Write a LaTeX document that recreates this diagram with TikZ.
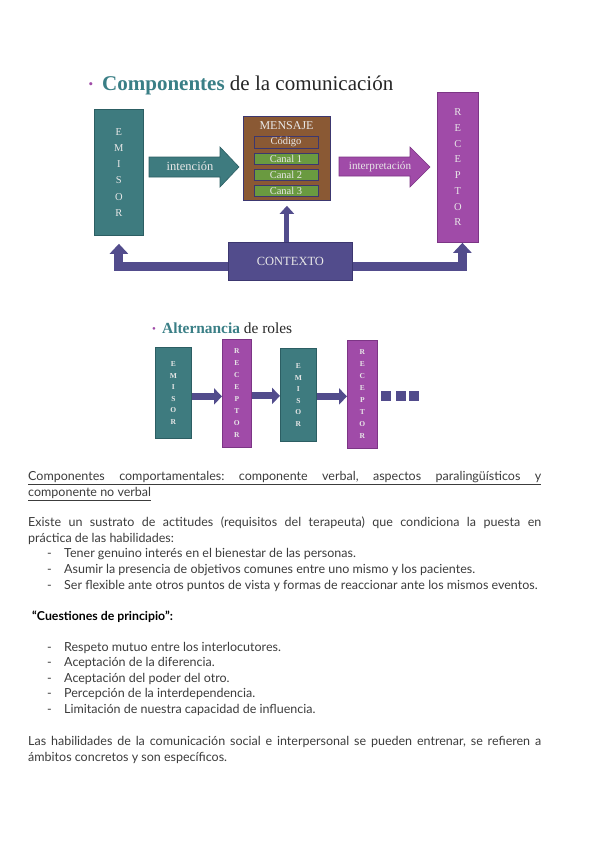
\documentclass[tikz,border=0pt]{standalone}
\usepackage{fontspec}
\setmainfont{Liberation Serif}
\newfontfamily\bodyfont{Lato}
\usetikzlibrary{arrows.meta}
\definecolor{cTeal}{HTML}{3E7B7F}
\definecolor{cTealD}{HTML}{2C5E63}
\definecolor{cTealT}{HTML}{3A7F86}
\definecolor{cPurple}{HTML}{A04BA8}
\definecolor{cPurpleD}{HTML}{7C3585}
\definecolor{cBrown}{HTML}{8A5934}
\definecolor{cGreen}{HTML}{6A9A40}
\definecolor{cNavy}{HTML}{524C8C}
\definecolor{cNavyD}{HTML}{3C3770}
\definecolor{cTxt}{HTML}{E8E8E8}
\definecolor{cBody}{HTML}{3C3C3C}
\frenchspacing
\begin{document}
\begin{tikzpicture}[x=1pt,y=-1pt,
  emi/.style={draw=cTealD, fill=cTeal, line width=0.8pt, anchor=north west, inner sep=0pt, text=cTxt, align=center},
  rec/.style={draw=cPurpleD, fill=cPurple, line width=0.8pt, anchor=north west, inner sep=0pt, text=cTxt, align=center},
  chan/.style={draw=cNavyD, line width=0.7pt, minimum width=64pt, inner sep=0pt, text=cTxt, font=\fontsize{10.5}{10.5}\selectfont},
  conn/.style={draw=cNavy, line width=9pt, -{Triangle[width=18pt,length=10pt]}},
  upconn/.style={draw=cNavy, line width=5pt, -{Triangle[width=14pt,length=8pt]}},
  sconn/.style={draw=cNavy, line width=7pt, -{Triangle[width=16pt,length=8pt]}},
  sq/.style={fill=cNavy, minimum size=10pt, inner sep=0pt},
  txt/.style={anchor=mid west, inner sep=0pt, yshift=-2.5pt, text=cBody, font=\bodyfont\fontsize{12.5}{16}\selectfont},
  dashmark/.style={anchor=mid west, inner sep=0pt, yshift=-2.5pt, text=cBody, font=\bodyfont\fontsize{12.5}{16}\selectfont}
]
\useasboundingbox[fill=white] (0,0) rectangle (600,848);

% ---- Title 1
\node[text=cPurple, font=\fontsize{13}{13}\selectfont, inner sep=0pt] (b1) at (91,86) {\textbullet};
\node[anchor=base west, inner sep=0pt, font=\fontsize{21}{21}\selectfont, text=black!85] (t1) at (102,91)
  {\textcolor{cTealT}{\bfseries Componentes} de la comunicación};

% ---- main diagram
\node[emi, minimum width=49pt, minimum height=126pt, font=\fontsize{10.5}{16.3}\selectfont] (emisor) at (94,109) {E\\M\\I\\S\\O\\R};
\node[rec, minimum width=41pt, minimum height=150pt, font=\fontsize{10.5}{15.7}\selectfont] (receptor) at (437,92) {R\\E\\C\\E\\P\\T\\O\\R};

\node[draw=cNavyD, fill=cBrown, line width=0.8pt, minimum width=87pt, minimum height=84pt, anchor=north west, inner sep=0pt] (mensaje) at (243,116) {};
\node[text=cTxt, font=\fontsize{12}{12}\selectfont, inner sep=0pt] (mtitle) at (286.5,126) {MENSAJE};
\node[chan, fill=cBrown, minimum height=12pt] (codigo) at (286,142) {Código};
\node[chan, fill=cGreen, minimum height=11pt] (canal1) at (286,158.5) {Canal 1};
\node[chan, fill=cGreen, minimum height=11pt] (canal2) at (286,174.5) {Canal 2};
\node[chan, fill=cGreen, minimum height=11pt] (canal3) at (286,190.5) {Canal 3};

% block arrows
\draw[fill=cTeal, draw=cTealD, line width=0.6pt] (149,157) -- (220,157) -- (220,147) -- (239,167) -- (220,187) -- (220,177) -- (149,177) -- cycle;
\node[text=cTxt, font=\fontsize{12.5}{12.5}\selectfont, inner sep=0pt] (lint) at (190,166.5) {intención};
\draw[fill=cPurple, draw=cPurpleD, line width=0.6pt] (339,157) -- (410,157) -- (410,147) -- (430,167) -- (410,187) -- (410,176) -- (339,176) -- cycle;
\node[text=cTxt, font=\fontsize{11.2}{11.2}\selectfont, inner sep=0pt] (lint2) at (380,166.5) {interpretación};

% contexto
\node[draw=cNavyD, fill=cNavy, line width=0.8pt, minimum width=124pt, minimum height=38pt, anchor=north west, inner sep=0pt,
  text=cTxt, font=\fontsize{12.5}{12.5}\selectfont] (ctx) at (228,242) {\raisebox{-2pt}{CONTEXTO}};
\draw[conn] ([yshift=-5pt]ctx.west) -| ([yshift=-8pt]emisor.south);
\draw[conn] ([yshift=-5pt]ctx.east) -| ([xshift=4.5pt]receptor.south);
\draw[upconn] (mensaje.south |- ctx.north) -- ([yshift=-5pt]mensaje.south);

% ---- Title 2
\node[text=cPurple, font=\fontsize{11}{11}\selectfont, inner sep=0pt] (b2) at (154,330) {\textbullet};
\node[anchor=base west, inner sep=0pt, font=\fontsize{15.4}{15.4}\selectfont, text=black!85] (t2) at (162,333)
  {\textcolor{cTealT}{\bfseries Alternancia} de roles};

% ---- small diagram
\node[emi, minimum width=36pt, minimum height=91pt, font=\fontsize{7.5}{11.5}\selectfont\bfseries] (e1) at (155,347) {E\\M\\I\\S\\O\\R};
\node[rec, minimum width=29pt, minimum height=108pt, font=\fontsize{7.5}{12}\selectfont\bfseries] (r1) at (222,339) {R\\E\\C\\E\\P\\T\\O\\R};
\node[emi, minimum width=36pt, minimum height=93pt, font=\fontsize{7.5}{11.5}\selectfont\bfseries] (e2) at (280,348) {E\\M\\I\\S\\O\\R};
\node[rec, minimum width=30pt, minimum height=108pt, font=\fontsize{7.5}{12}\selectfont\bfseries] (r2) at (347,340) {R\\E\\C\\E\\P\\T\\O\\R};
\coordinate (a1) at ([yshift=-3.5pt]e1.east);
\coordinate (a2) at ([yshift=-2.5pt]r1.east);
\coordinate (a3) at ([yshift=-1.5pt]e2.east);
\draw[sconn] (a1) -- (a1 -| r1.west);
\draw[sconn] (a2) -- (a2 -| e2.west);
\draw[sconn] (a3) -- (a3 -| r2.west);
\node[sq] (d1) at (386,396) {};
\node[sq] (d2) at (401,396) {};
\node[sq] (d3) at (414,396) {};

% ---- body text
\node[txt] (l1) at (28,476) {\underline{\makebox[513pt][s]{Componentes comportamentales: componente verbal, aspectos paralingüísticos y}}};
\node[txt] (l2) at (28,492) {\underline{componente no verbal}};
\node[txt] (l3) at (28,522) {\makebox[513pt][s]{Existe un sustrato de actitudes (requisitos del terapeuta) que condiciona la puesta en}};
\node[txt] (l4) at (28,538) {práctica de las habilidades:};
\node[dashmark] (d5) at (47,553) {-};
\node[txt] (l5) at (64,553) {Tener genuino interés en el bienestar de las personas.};
\node[dashmark] (d6) at (47,569) {-};
\node[txt] (l6) at (64,569) {Asumir la presencia de objetivos comunes entre uno mismo y los pacientes.};
\node[dashmark] (d7) at (47,585) {-};
\node[txt] (l7) at (64,585) {Ser flexible ante otros puntos de vista y formas de reaccionar ante los mismos eventos.};
\node[txt, text=black, font=\bodyfont\bfseries\fontsize{12.3}{16}\selectfont] (h1) at (32,616) {“Cuestiones de principio”:};
\node[dashmark] (d8) at (47,647) {-};
\node[txt] (l8) at (64,647) {Respeto mutuo entre los interlocutores.};
\node[dashmark] (d9) at (47,662) {-};
\node[txt] (l9) at (64,662) {Aceptación de la diferencia.};
\node[dashmark] (d10) at (47,678) {-};
\node[txt] (l10) at (64,678) {Aceptación del poder del otro.};
\node[dashmark] (d11) at (47,693) {-};
\node[txt] (l11) at (64,693) {Percepción de la interdependencia.};
\node[dashmark] (d12) at (47,709) {-};
\node[txt] (l12) at (64,709) {Limitación de nuestra capacidad de influencia.};
\node[txt] (l13) at (28,741) {\makebox[513pt][s]{Las habilidades de la comunicación social e interpersonal se pueden entrenar, se refieren a}};
\node[txt] (l14) at (28,757) {ámbitos concretos y son específicos.};
\end{tikzpicture}
\end{document}
